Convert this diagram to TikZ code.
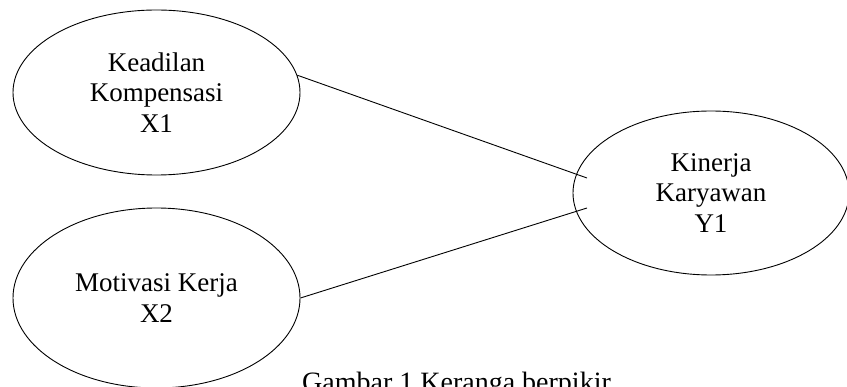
\documentclass[tikz,border=0pt]{standalone}
\usepackage{fontspec}
\setmainfont{Liberation Serif}
\usetikzlibrary{shapes.geometric}
\begin{document}
\begin{tikzpicture}[x=1pt,y=-1pt,
  var/.style={ellipse, draw, line width=0.9pt, inner sep=0pt, align=center,
    font=\fontsize{27}{30.5}\selectfont},
  link/.style={line width=0.9pt}]
\useasboundingbox (0,0) rectangle (847,387);
\node[var, minimum width=287, minimum height=165] (x1) at (156.5,92.5)
  {Keadilan\\Kompensasi\\X1};
\node[var, minimum width=287, minimum height=180] (x2) at (156.5,298)
  {Motivasi Kerja\\X2};
\node[var, minimum width=276, minimum height=164] (y1) at (711,193)
  {Kinerja\\Karyawan\\Y1};
\coordinate (e1) at (587,178);
\coordinate (e2) at (587,208);
\draw[link] (x1.7) -- (e1);
\draw[link] (x2.east) -- (e2);
\node[anchor=base west, inner sep=0pt, font=\fontsize{28}{32}\selectfont] (cap) at (302,391.5)
  {Gambar 1 Keranga berpikir};
\end{tikzpicture}
\end{document}
